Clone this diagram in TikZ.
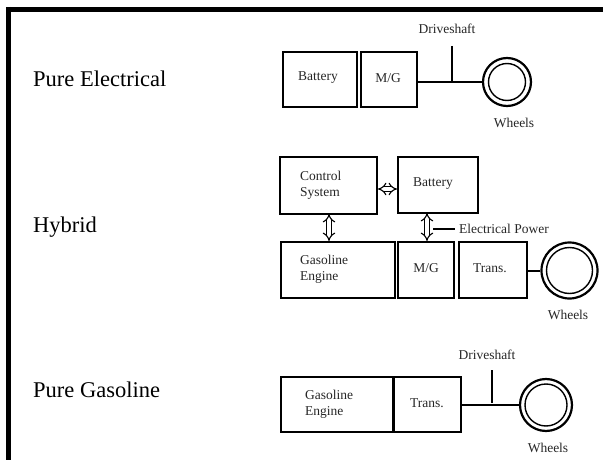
\documentclass[tikz,border=0pt]{standalone}
\usepackage{fontspec}
\setmainfont{Liberation Serif}
\usetikzlibrary{arrows.meta}
\begin{document}
\begin{tikzpicture}[x=1pt,y=-1pt,
  box/.style={draw, line width=2pt, rectangle, inner sep=0pt},
  txt/.style={font=\fontsize{13.5}{16}\selectfont, inner sep=0pt, text=black!85},
  big/.style={font=\fontsize{22.5}{26}\selectfont, inner sep=0pt, anchor=base west},
  wheel/.style={draw, circle, line width=2.2pt, inner sep=0pt},
  shaft/.style={line width=2pt},
  hollow/.style={double, double distance=3.2pt, line width=1.1pt, {Implies[length=5pt]}-{Implies[length=5pt]}},
  frameline/.style={line width=5pt}
]
\useasboundingbox (0,0) rectangle (603,460);
% frame
\coordinate (ftl) at (8.5,9.5);
\coordinate (ftr) at (603,9.5);
\coordinate (fbl) at (8.5,460);
\draw[frameline] (ftr) -- (6,9.5);
\draw[frameline] (8.5,7) -- (fbl);

% titles
\node[big] (tPE) at (33,87) {Pure Electrical};
\node[big] (tHY) at (33,232) {Hybrid};
\node[big] (tPG) at (33,397) {Pure Gasoline};

% ---------- Pure Electrical ----------
\node[box, minimum width=74, minimum height=55] (eBat) at (320,79.5) {};
\node[txt] (eBatT) at (318,78) {Battery};
\node[box, minimum width=56, minimum height=55] (eMG) at (389,79.5) {};
\node[txt] (eMGT) at (388,78) {M/G};
\node[wheel, minimum size=48] (eW) at (507,82) {};
\draw[line width=1.4pt] (eW.center) circle (18.5);
\draw[shaft] (eMG.east |- eW.west) -- (eW.west);
\coordinate (eDs1) at (452,46);
\coordinate (eDs2) at (452,81);
\draw[line width=1.6pt] (eDs1) -- (eDs2);
\node[txt, anchor=base] (eDsT) at (447,34) {Driveshaft};
\node[txt, anchor=base] (eWT) at (514,128) {Wheels};

% ---------- Hybrid ----------
\node[box, minimum width=97, minimum height=57] (hCtrl) at (328.5,185.5) {};
\node[txt, anchor=west, align=left] (hCtrlT) at (300,185) {Control\\System};
\node[box, minimum width=80, minimum height=56] (hBat) at (438,185) {};
\node[txt] (hBatT) at (433,184) {Battery};
\node[box, minimum width=114, minimum height=56] (hEng) at (338,270) {};
\node[txt, anchor=west, align=left] (hEngT) at (300,269) {Gasoline\\Engine};
\node[box, minimum width=56, minimum height=56] (hMG) at (426,270) {};
\node[txt] (hMGT) at (426,268) {M/G};
\node[box, minimum width=68, minimum height=56] (hTr) at (493,270) {};
\node[txt] (hTrT) at (490,268) {Trans.};
\node[wheel, minimum size=56] (hW) at (569.5,270.5) {};
\draw[line width=1.4pt] (hW.center) circle (23);
\draw[shaft] (hTr.east |- hW.west) -- (hW.west);
\draw[hollow] (hCtrl.east |- 0,189) -- (hBat.west |- 0,189);
\draw[hollow] (329,214) -- (329,241);
\draw[hollow] (427,213) -- (427,241);
\coordinate (hEpL) at (433,229);
\node[txt, anchor=west, inner xsep=4pt] (hEp) at (455,229) {Electrical Power};
\draw[line width=1.6pt] (hEpL) -- (hEp.west);
\node[txt, anchor=base] (hWT) at (568,319) {Wheels};

% ---------- Pure Gasoline ----------
\node[box, minimum width=112, minimum height=55] (gEng) at (337,404.5) {};
\node[txt, anchor=west, align=left] (gEngT) at (305,404) {Gasoline\\Engine};
\node[box, minimum width=67, minimum height=55] (gTr) at (427.5,404.5) {};
\node[txt] (gTrT) at (427,403) {Trans.};
\node[wheel, minimum size=52] (gW) at (546,405) {};
\draw[line width=1.4pt] (gW.center) circle (21);
\draw[shaft] (gTr.east |- gW.west) -- (gW.west);
\coordinate (gDs1) at (492,370);
\coordinate (gDs2) at (492,403);
\draw[line width=1.6pt] (gDs1) -- (gDs2);
\node[txt, anchor=base] (gDsT) at (487,359) {Driveshaft};
\node[txt, anchor=base] (gWT) at (548,452) {Wheels};
\end{tikzpicture}
\end{document}
